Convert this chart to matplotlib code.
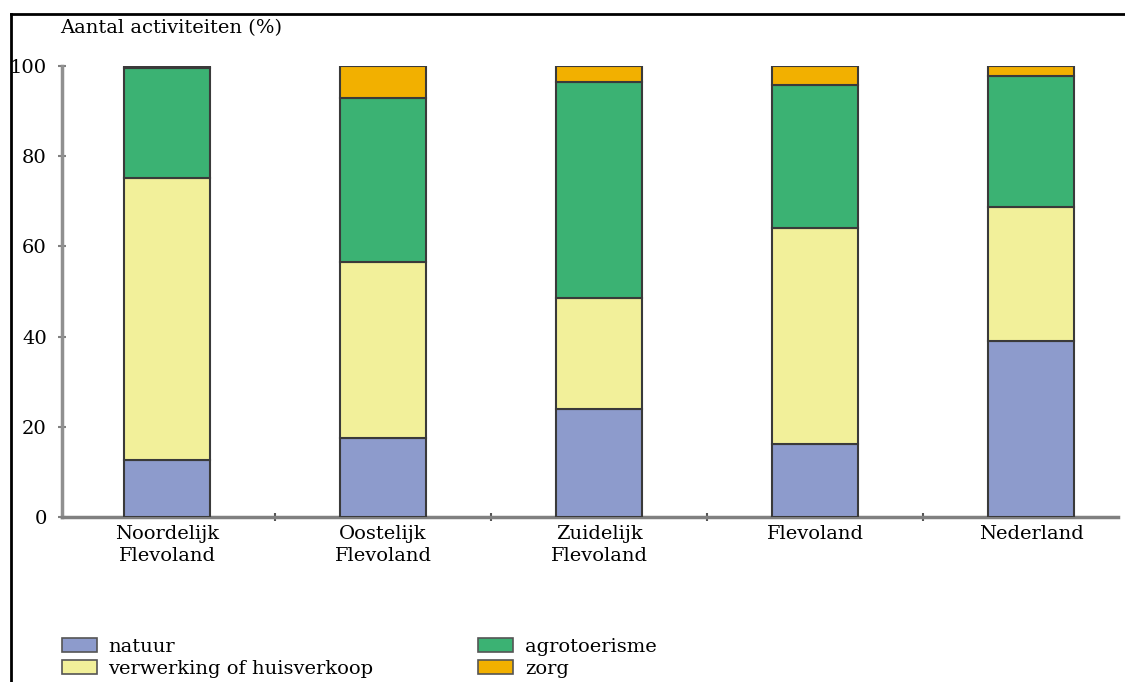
import matplotlib
matplotlib.use("Agg")
import matplotlib.pyplot as plt
from matplotlib.lines import Line2D
from matplotlib.patches import FancyBboxPatch
import numpy as np

# data (percent of activities)
regions = ["Noordelijk\nFlevoland", "Oostelijk\nFlevoland", "Zuidelijk\nFlevoland",
           "Flevoland", "Nederland"]
natuur = [12.6, 17.5, 24.0, 16.2, 39.0]
verwerking = [62.6, 39.0, 24.6, 47.9, 29.7]
agrotoerisme = [24.3, 36.4, 47.9, 31.7, 29.1]
zorg = [0.5, 7.1, 3.5, 4.2, 2.2]

series_names = ["natuur", "verwerking of huisverkoop", "agrotoerisme", "zorg"]
colors = ["#8d9bcc", "#f2f09a", "#3bb273", "#f2b000"]

plt.rcParams["font.family"] = ["DejaVu Serif"]

fig = plt.figure(figsize=(11.25, 6.82), dpi=100)
ax = fig.add_axes([62 / 1125, 1 - 517 / 682, (1118 - 62) / 1125, (517 - 66) / 682])

x = np.arange(len(regions))
bottom = np.zeros(len(regions))
handles = []
for name, vals, col in zip(series_names, [natuur, verwerking, agrotoerisme, zorg], colors):
    ax.bar(x, vals, width=0.4, bottom=bottom, color=col, edgecolor="#3a3a3a",
           linewidth=1.5, zorder=3)
    bottom += np.array(vals)
    handles.append(FancyBboxPatch((0, 0), 1, 1, boxstyle="round,pad=0.1",
                                  facecolor=col, edgecolor="#555555", linewidth=1.2))

ax.set_ylim(0, 100)
ax.set_xlim(-0.486, 4.403)
ax.set_yticks([0, 20, 40, 60, 80, 100])
ax.set_xticks(x)
ax.set_xticklabels(regions, fontsize=14, linespacing=1.25)
ax.set_xticks(x[:-1] + 0.5, minor=True)
ax.tick_params(axis="y", labelsize=14, length=6, width=1.5, color="#808080",
               direction="inout", pad=8)
ax.tick_params(axis="x", which="major", length=0, pad=6)
ax.tick_params(axis="x", which="minor", length=6, width=1.5, color="#555555",
               direction="inout")

for s in ["top", "right"]:
    ax.spines[s].set_visible(False)
ax.spines["left"].set_color("#909090")
ax.spines["left"].set_linewidth(2.5)
ax.spines["bottom"].set_color("#808080")
ax.spines["bottom"].set_linewidth(2.5)

fig.text(60 / 1125, 1 - 28 / 682, "Aantal activiteiten (%)", fontsize=14,
         ha="left", va="center")

fig.legend(handles, series_names, ncol=2, loc="upper left",
           bbox_to_anchor=(44 / 1125, 1 - 620 / 682), frameon=False,
           fontsize=14, handlelength=1.8, handleheight=0.8,
           columnspacing=5.4, labelspacing=0.2, handletextpad=0.6)

# frame around the figure (left and top edges visible)
fig.add_artist(Line2D([11 / 1125, 11 / 1125], [0, 1 - 14 / 682], color="black",
                      linewidth=2, transform=fig.transFigure))
fig.add_artist(Line2D([11 / 1125, 1], [1 - 14 / 682, 1 - 14 / 682], color="black",
                      linewidth=2, transform=fig.transFigure))

fig.savefig("out.png", dpi=100)
